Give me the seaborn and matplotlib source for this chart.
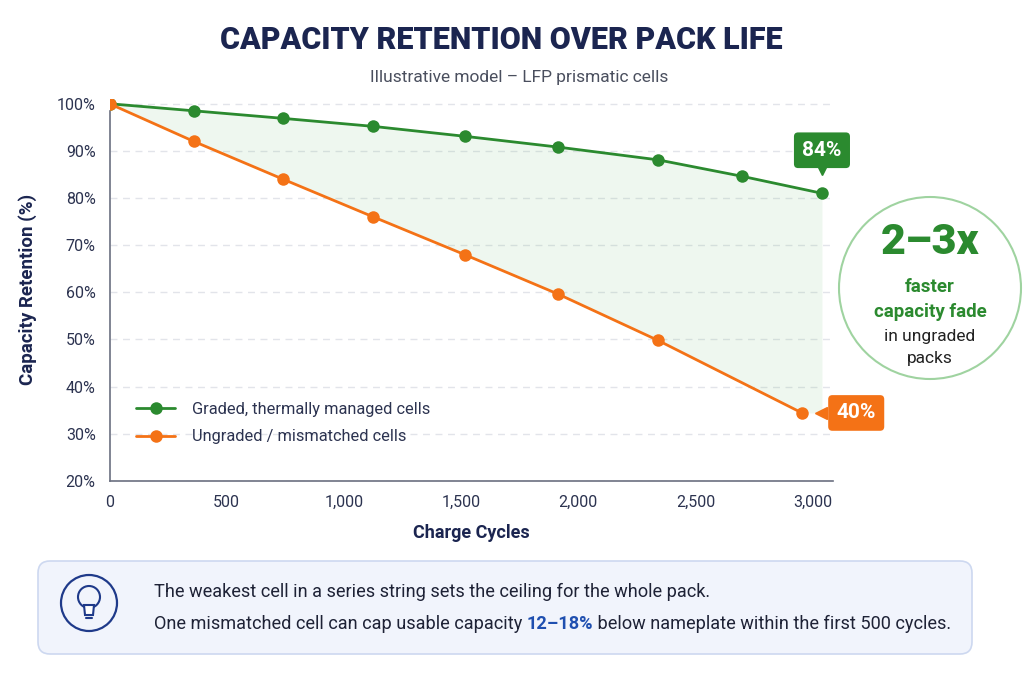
import numpy as np
import pandas as pd
import seaborn as sns
import matplotlib.pyplot as plt
from matplotlib.patches import Circle, FancyBboxPatch, Polygon
from matplotlib.ticker import FuncFormatter, MultipleLocator
from matplotlib.transforms import ScaledTranslation

# data
green_cycles = [0, 360, 740, 1125, 1515, 1915, 2340, 2700, 3040]
green_ret = [100, 98.5, 96.9, 95.2, 93.1, 90.8, 88.1, 84.6, 81.0]
orange_cycles = [0, 360, 740, 1125, 1515, 1915, 2340, 2955]
orange_ret = [100, 92.0, 84.0, 76.0, 68.0, 59.6, 49.8, 34.4]
series_names = ["Graded, thermally managed cells", "Ungraded / mismatched cells"]
end_labels = ["84%", "40%"]

GREEN = "#2b8a2f"
ORANGE = "#f47216"
NAVY = "#1b2550"
TEXT = "#2c3350"

df = pd.concat([
    pd.DataFrame({"cycles": green_cycles, "ret": green_ret, "series": series_names[0]}),
    pd.DataFrame({"cycles": orange_cycles, "ret": orange_ret, "series": series_names[1]}),
])

sns.set_theme(style="white")
plt.rcParams["font.family"] = ["Roboto", "DejaVu Sans"]

fig = plt.figure(figsize=(10.24, 6.83), dpi=100)
ax = fig.add_axes([0.107, 0.296, 0.706, 0.559])

# shaded gap between the two curves
xs = np.linspace(0, green_cycles[-1], 300)
ax.fill_between(xs, np.interp(xs, green_cycles, green_ret), np.interp(xs, orange_cycles, orange_ret),
                color="#4caf50", alpha=0.09, lw=0, zorder=1)

sns.lineplot(data=df, x="cycles", y="ret", hue="series", palette=[GREEN, ORANGE],
             marker="o", markersize=9, markeredgewidth=0, linewidth=2, ax=ax, zorder=3, sort=False)

ax.set_xlim(0, 3085)
ax.set_ylim(20, 101)
ax.yaxis.set_major_locator(MultipleLocator(10))
ax.xaxis.set_major_locator(MultipleLocator(500))
ax.yaxis.set_major_formatter(FuncFormatter(lambda v, p: f"{v:.0f}%"))
ax.xaxis.set_major_formatter(FuncFormatter(lambda v, p: f"{v:,.0f}"))
ax.grid(axis="y", color="#e2e4ea", linestyle=(0, (5, 4)), linewidth=1)
for s in ["top", "right"]:
    ax.spines[s].set_visible(False)
for s in ["left", "bottom"]:
    ax.spines[s].set_color("#6b7080")
    ax.spines[s].set_linewidth(1.2)
ax.spines["left"].set_bounds(20, 98.5)
ax.tick_params(axis="both", labelsize=11.5, colors=TEXT, length=4, width=1, color="#8a8f9c", pad=6)
ax.set_xlabel("Charge Cycles", fontsize=13, fontweight="bold", color=NAVY, labelpad=10)
ax.set_ylabel("Capacity Retention (%)", fontsize=13.5, fontweight="bold", color=NAVY, labelpad=14)

leg = ax.legend(loc="upper left", bbox_to_anchor=(0.016, 0.245), frameon=False, fontsize=11.8,
                handlelength=2.4, handletextpad=1.0, labelspacing=0.75)
for t in leg.get_texts():
    t.set_color(TEXT)

# end-point labels
ax.annotate(end_labels[0], xy=(green_cycles[-1], green_ret[-1]), xytext=(0, 31), textcoords="offset points",
            ha="center", va="center", fontsize=15, fontweight="bold", color="white",
            bbox=dict(boxstyle="round,pad=0.4,rounding_size=0.2", fc=GREEN, ec="none"), zorder=5)
ax.plot(green_cycles[-1], green_ret[-1], marker="v", markersize=9, color=GREEN, zorder=5,
        transform=ax.transData + ScaledTranslation(0, 0.24, fig.dpi_scale_trans), clip_on=False)
ax.annotate(end_labels[1], xy=(orange_cycles[-1], orange_ret[-1]), xytext=(39, 0), textcoords="offset points",
            ha="center", va="center", fontsize=15, fontweight="bold", color="white",
            bbox=dict(boxstyle="round,pad=0.4,rounding_size=0.2", fc=ORANGE, ec="none"), zorder=5,
            annotation_clip=False)
ax.plot(orange_cycles[-1], orange_ret[-1], marker="<", markersize=9, color=ORANGE, zorder=5,
        transform=ax.transData + ScaledTranslation(0.19, 0, fig.dpi_scale_trans), clip_on=False)

# title
fig.text(0.490, 0.942, "CAPACITY RETENTION OVER PACK LIFE", ha="center", va="center",
         fontsize=22, fontweight="heavy", color=NAVY)
fig.text(0.507, 0.887, "Illustrative model \u2013 LFP prismatic cells", ha="center", va="center",
         fontsize=12.5, color="#4a4f5e")

# callout circle
cx = 9.30 / 10.24
fig.add_artist(Circle((9.30, 3.95), 0.91, transform=fig.dpi_scale_trans, fc="white", ec="#9fd3a0", lw=1.5))
fig.text(cx, 1 - 243 / 683, "2\u20133x", ha="center", va="center", fontsize=31,
         fontweight="heavy", color=GREEN)
fig.text(cx, 1 - 287 / 683, "faster", ha="center", va="center", fontsize=13.5,
         fontweight="bold", color=GREEN)
fig.text(cx, 1 - 312 / 683, "capacity fade", ha="center", va="center", fontsize=13.5,
         fontweight="bold", color=GREEN)
fig.text(cx, 1 - 336 / 683, "in ungraded", ha="center", va="center", fontsize=12.5, color="#222")
fig.text(cx, 1 - 358 / 683, "packs", ha="center", va="center", fontsize=12.5, color="#222")

# bottom note box
fig.add_artist(FancyBboxPatch((0.38, 0.29), 9.34, 0.93, boxstyle="round,pad=0,rounding_size=0.12",
                              transform=fig.dpi_scale_trans, fc="#f1f4fc", ec="#cdd8f0", lw=1.2))
icon_col = "#1f3a8a"
fig.add_artist(Circle((0.89, 0.80), 0.28, transform=fig.dpi_scale_trans, fc="none", ec=icon_col, lw=1.6))
fig.add_artist(Circle((0.89, 0.86), 0.11, transform=fig.dpi_scale_trans, fc="none", ec=icon_col, lw=1.5))
fig.add_artist(Polygon([(0.84, 0.78), (0.94, 0.78), (0.93, 0.68), (0.85, 0.68)], closed=True,
                       transform=fig.dpi_scale_trans, fc="white", ec=icon_col, lw=1.5))
fig.add_artist(plt.Line2D([0.86, 0.92], [0.65, 0.65], transform=fig.dpi_scale_trans, color=icon_col, lw=1.5))

fig.text(154 / 1024, 1 - 592 / 683, "The weakest cell in a series string sets the ceiling for the whole pack.",
         ha="left", va="center", fontsize=13.1, color="#1e2236")
t1 = fig.text(154 / 1024, 1 - 624 / 683, "One mismatched cell can cap usable capacity ",
              ha="left", va="center", fontsize=13.1, color="#1e2236")
t2 = fig.text(0, 0, "12\u201318%", fontsize=13.1, fontweight="bold", color="#1f4fb0")
t3 = fig.text(0, 0, " below nameplate within the first 500 cycles.", fontsize=13.1, color="#1e2236")
fig.canvas.draw()
r = fig.canvas.get_renderer()
bb1 = t1.get_window_extent(r)
t2.set_position((bb1.x1 / fig.bbox.width, bb1.y0 / fig.bbox.height))
t2.set_va("bottom")
fig.canvas.draw()
bb2 = t2.get_window_extent(r)
t3.set_position((bb2.x1 / fig.bbox.width, bb1.y0 / fig.bbox.height))
t3.set_va("bottom")

fig.savefig("out.png", dpi=100)
